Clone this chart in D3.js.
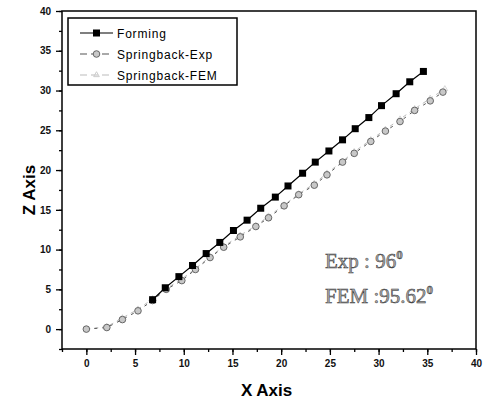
<!DOCTYPE html>
<html>
<head>
<meta charset="utf-8">
<script src="https://cdn.jsdelivr.net/npm/d3@7"></script>
<style>
  body { margin: 0; background: #fff; }
  svg { display: block; }
</style>
</head>
<body>
<div id="chart"></div>
<script>
// series
var formingX = [6.8, 8.1, 9.5, 10.9, 12.3, 13.7, 15.1, 16.5, 17.9, 19.4, 20.7, 22.2, 23.5, 24.9, 26.3, 27.6, 29.0, 30.3, 31.8, 33.2, 34.6];
var formingZ = [3.7, 5.2, 6.6, 8.0, 9.5, 10.9, 12.4, 13.7, 15.2, 16.6, 18.0, 19.6, 21.0, 22.4, 23.8, 25.2, 26.6, 28.1, 29.6, 31.1, 32.4];

var expX = [0, 2.1, 3.7, 5.3, 6.8, 8.2, 9.8, 11.2, 12.7, 14.1, 15.8, 17.4, 18.7, 20.3, 21.8, 23.4, 24.7, 26.3, 27.5, 29.2, 30.7, 32.2, 33.7, 35.3, 36.6];
var expZ = [0, 0.2, 1.2, 2.3, 3.6, 5.0, 6.1, 7.5, 9.0, 10.3, 11.6, 12.9, 14.0, 15.5, 16.9, 18.1, 19.4, 21.0, 22.1, 23.6, 24.9, 26.1, 27.5, 28.7, 29.8];

var femX = [0, 2.1, 3.7, 5.3, 6.8, 8.2, 9.8, 11.2, 12.7, 14.1, 15.8, 17.4, 18.7, 20.3, 21.8, 23.4, 24.7, 26.3, 27.5, 29.2, 30.7, 32.2, 33.7, 35.3, 36.8];
var femZ = [0, 0.3, 1.4, 2.5, 3.8, 5.1, 6.3, 7.6, 9.1, 10.4, 11.8, 13.0, 14.2, 15.6, 17.0, 18.3, 19.6, 21.1, 22.3, 23.8, 25.1, 26.4, 27.7, 29.0, 30.2];

var seriesNames = ["Forming", "Springback-Exp", "Springback-FEM"];
var xTicks = [0, 5, 10, 15, 20, 25, 30, 35, 40];
var zTicks = [0, 5, 10, 15, 20, 25, 30, 35, 40];
var notes = [["Exp : 96", "0"], ["FEM :95.62", "0"]];

var width = 487, height = 409;
var margin = {top: 11, right: 11, bottom: 60, left: 62};

var svg = d3.select("#chart").append("svg")
    .attr("width", width)
    .attr("height", height);

var x = d3.scaleLinear().domain([-2.5, 40]).range([margin.left, width - margin.right]);
var y = d3.scaleLinear().domain([-2.5, 40]).range([height - margin.bottom, margin.top]);

// frame
svg.append("rect")
    .attr("x", x(-2.5)).attr("y", y(40))
    .attr("width", x(40) - x(-2.5)).attr("height", y(-2.5) - y(40))
    .attr("fill", "none").attr("stroke", "#000").attr("stroke-width", 1.5);

// minor ticks first, then major with labels
var minor = d3.range(-2.5, 40.01, 2.5);
svg.append("g")
    .attr("transform", "translate(0," + y(-2.5) + ")")
    .call(d3.axisBottom(x).tickValues(minor).tickSize(3).tickFormat(""))
    .call(function (g) { g.select(".domain").remove(); });
svg.append("g")
    .attr("transform", "translate(" + x(-2.5) + ",0)")
    .call(d3.axisLeft(y).tickValues(minor).tickSize(3).tickFormat(""))
    .call(function (g) { g.select(".domain").remove(); });

var gx = svg.append("g")
    .attr("transform", "translate(0," + y(-2.5) + ")")
    .call(d3.axisBottom(x).tickValues(xTicks).tickSize(6).tickPadding(5))
    .call(function (g) { g.select(".domain").remove(); });
var gy = svg.append("g")
    .attr("transform", "translate(" + x(-2.5) + ",0)")
    .call(d3.axisLeft(y).tickValues(zTicks).tickSize(6).tickPadding(5))
    .call(function (g) { g.select(".domain").remove(); });

[gx, gy].forEach(function (g) {
    g.selectAll("text")
        .attr("font-family", "Liberation Sans, Arial, sans-serif")
        .attr("font-size", "10px")
        .attr("font-weight", "bold")
        .attr("fill", "#111");
});
svg.selectAll(".tick line").attr("stroke", "#000").attr("stroke-width", 1.3);

// axis titles
svg.append("text")
    .attr("x", x(18.5)).attr("y", 396)
    .attr("text-anchor", "middle")
    .attr("font-family", "Liberation Sans, Arial, sans-serif")
    .attr("font-size", "17px").attr("font-weight", "bold")
    .text("X Axis");
svg.append("text")
    .attr("transform", "translate(35," + y(17.5) + ") rotate(-90)")
    .attr("text-anchor", "middle")
    .attr("font-family", "Liberation Sans, Arial, sans-serif")
    .attr("font-size", "17px").attr("font-weight", "bold")
    .text("Z Axis");

var line = d3.line()
    .x(function (d) { return x(d[0]); })
    .y(function (d) { return y(d[1]); });

var fem = d3.zip(femX, femZ);
var exp = d3.zip(expX, expZ);
var forming = d3.zip(formingX, formingZ);

// FEM: faint dashed
svg.append("path").datum(fem)
    .attr("d", line).attr("fill", "none")
    .attr("stroke", "#bbb").attr("stroke-width", 1).attr("stroke-dasharray", "4,4");
svg.selectAll(".fem").data(fem).enter().append("path")
    .attr("class", "fem")
    .attr("transform", function (d) { return "translate(" + x(d[0]) + "," + y(d[1]) + ")"; })
    .attr("d", d3.symbol(d3.symbolTriangle, 14))
    .attr("fill", "none").attr("stroke", "#ccc").attr("stroke-width", 0.8);

// Exp: dashed dark line, hatched grey circles
svg.append("path").datum(exp)
    .attr("d", line).attr("fill", "none")
    .attr("stroke", "#555").attr("stroke-width", 1).attr("stroke-dasharray", "3,5");
svg.selectAll(".exp").data(exp).enter().append("circle")
    .attr("class", "exp")
    .attr("cx", function (d) { return x(d[0]); })
    .attr("cy", function (d) { return y(d[1]); })
    .attr("r", 3.3)
    .attr("fill", "#c8c8c8").attr("stroke", "#666").attr("stroke-width", 1);

// Forming: black line with squares
svg.append("path").datum(forming)
    .attr("d", line).attr("fill", "none")
    .attr("stroke", "#000").attr("stroke-width", 1.2);
svg.selectAll(".forming").data(forming).enter().append("rect")
    .attr("class", "forming")
    .attr("x", function (d) { return x(d[0]) - 3.5; })
    .attr("y", function (d) { return y(d[1]) - 3.5; })
    .attr("width", 7).attr("height", 7)
    .attr("fill", "#000");

// legend
var legend = svg.append("g");
legend.append("rect")
    .attr("x", 68).attr("y", 18).attr("width", 169).attr("height", 67)
    .attr("fill", "#fff").attr("stroke", "#000").attr("stroke-width", 1.5);

var legRows = legend.selectAll(".leg").data(seriesNames).enter().append("g")
    .attr("transform", function (d, i) { return "translate(0," + (33 + i * 21) + ")"; });

legRows.append("line")
    .attr("x1", 80).attr("x2", 113).attr("y1", 0).attr("y2", 0)
    .attr("stroke", function (d, i) { return ["#000", "#555", "#bbb"][i]; })
    .attr("stroke-width", 1.2)
    .attr("stroke-dasharray", function (d, i) { return i === 0 ? null : "7,4"; });

legRows.filter(function (d, i) { return i === 0; }).append("rect")
    .attr("x", 93).attr("y", -3.5).attr("width", 7).attr("height", 7).attr("fill", "#000");
legRows.filter(function (d, i) { return i === 1; }).append("circle")
    .attr("cx", 96.5).attr("cy", 0).attr("r", 3.3)
    .attr("fill", "#c8c8c8").attr("stroke", "#666");
legRows.filter(function (d, i) { return i === 2; }).append("path")
    .attr("transform", "translate(96.5,0)")
    .attr("d", d3.symbol(d3.symbolTriangle, 14))
    .attr("fill", "none").attr("stroke", "#ccc");

legRows.append("text")
    .attr("x", 117).attr("y", 4.5)
    .attr("font-family", "Liberation Sans, Arial, sans-serif")
    .attr("font-size", "12px")
    .attr("letter-spacing", "0.8px")
    .attr("fill", "#000")
    .text(function (d) { return d; });

// angle notes
var noteG = svg.selectAll(".note").data(notes).enter().append("text")
    .attr("x", 325)
    .attr("y", function (d, i) { return 268 + i * 35; })
    .attr("font-family", "Liberation Serif, Times New Roman, serif")
    .attr("font-size", "21px")
    .attr("fill", "#aaa")
    .attr("stroke", "#333")
    .attr("stroke-width", 0.5);
noteG.append("tspan").text(function (d) { return d[0]; });
noteG.append("tspan")
    .attr("dy", -9).attr("font-size", "13px").attr("font-weight", "bold")
    .text(function (d) { return d[1]; });
</script>
</body>
</html>
